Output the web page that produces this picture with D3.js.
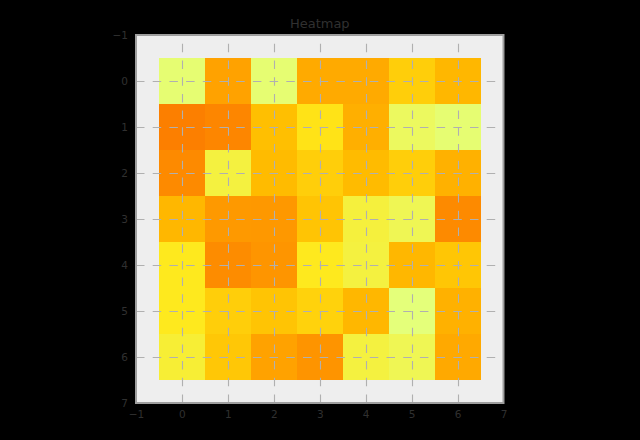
<!DOCTYPE html>
<html><head><meta charset="utf-8">
<script src="https://cdn.jsdelivr.net/npm/d3@7"></script>
<style>html,body{margin:0;padding:0;background:#000;}svg{display:block;}</style>
</head><body>
<script>
const title = "Heatmap";
const xCategories = [0, 1, 2, 3, 4, 5, 6];
const yCategories = [0, 1, 2, 3, 4, 5, 6];
const row0 = [0.02, 0.73, 0.02, 0.66, 0.66, 0.40, 0.55];
const row1 = [1.00, 0.95, 0.49, 0.28, 0.62, 0.07, 0.02];
const row2 = [0.92, 0.15, 0.52, 0.40, 0.52, 0.40, 0.60];
const row3 = [0.55, 0.80, 0.81, 0.46, 0.16, 0.10, 0.92];
const row4 = [0.24, 0.90, 0.83, 0.24, 0.15, 0.55, 0.45];
const row5 = [0.24, 0.40, 0.46, 0.38, 0.55, 0.00, 0.60];
const row6 = [0.18, 0.44, 0.73, 0.84, 0.15, 0.10, 0.67];
const values = [row0, row1, row2, row3, row4, row5, row6];
const xTicks = [-1, 0, 1, 2, 3, 4, 5, 6, 7];
const yTicks = [-1, 0, 1, 2, 3, 4, 5, 6, 7];
const wistiaStops = [0, 0.25, 0.5, 0.75, 1];
const wistiaColors = ["#e4ff7a", "#ffe81a", "#ffbd00", "#ffa000", "#fc7f00"];

(function () {
const W = 640, H = 440;
const pl = 136, pr = 503.5, pt = 35, pb = 403;
const svg = d3.select("body").append("svg").attr("width", W).attr("height", H)
  .style("font-family", "DejaVu Sans, sans-serif");
svg.append("rect").attr("width", W).attr("height", H).attr("fill", "#000");

const x = d3.scaleLinear().domain([-1, 7]).range([pl, pr]);
const y = d3.scaleLinear().domain([-1, 7]).range([pt, pb]);

const flat = values.flat();
const vmin = d3.min(flat), vmax = d3.max(flat);
const norm = d3.scaleLinear().domain([vmin, vmax]).range([0, 1]);
const cmap = d3.scaleLinear().domain(wistiaStops).range(wistiaColors).interpolate(d3.interpolateRgb);

svg.append("rect").attr("x", pl).attr("y", pt).attr("width", pr - pl).attr("height", pb - pt)
  .attr("fill", "#eeeeee");

const cells = [];
values.forEach((row, r) => row.forEach((v, c) => cells.push({r: yCategories[r], c: xCategories[c], v})));
svg.append("g").selectAll("rect").data(cells).join("rect")
  .attr("x", d => x(d.c - 0.5))
  .attr("y", d => y(d.r - 0.5))
  .attr("width", d => x(d.c + 0.5) - x(d.c - 0.5))
  .attr("height", d => y(d.r + 0.5) - y(d.r - 0.5))
  .attr("fill", d => cmap(norm(d.v)))
  .attr("shape-rendering", "crispEdges");

// grid
const grid = svg.append("g").attr("stroke", "#b0b0b0").attr("stroke-width", 1.1).attr("stroke-dasharray", "8.5,8.2");
grid.selectAll("line.v").data(xTicks.slice(1, -1)).join("line").attr("class", "v")
  .attr("x1", d => Math.round(x(d)) + 0.5).attr("x2", d => Math.round(x(d)) + 0.5)
  .attr("y1", pb).attr("y2", pt);
grid.selectAll("line.h").data(yTicks.slice(1, -1)).join("line").attr("class", "h")
  .attr("y1", d => Math.round(y(d)) + 0.5).attr("y2", d => Math.round(y(d)) + 0.5)
  .attr("x1", pl).attr("x2", pr);

// frame
svg.append("rect").attr("x", pl).attr("y", pt).attr("width", pr - pl).attr("height", pb - pt)
  .attr("fill", "none").attr("stroke", "#9e9e9e").attr("stroke-width", 2);

// axes
const xAxis = d3.axisBottom(x).tickValues(xTicks).tickSize(0).tickPadding(8);
const yAxis = d3.axisLeft(y).tickValues(yTicks).tickSize(0).tickPadding(8);
const gx = svg.append("g").attr("transform", `translate(0,${pb})`).call(xAxis);
const gy = svg.append("g").attr("transform", `translate(${pl},0)`).call(yAxis);
[gx, gy].forEach(g => {
  g.select(".domain").remove();
  g.selectAll("text").attr("fill", "#303030").style("font-size", "10.5px").style("font-family", "DejaVu Sans, sans-serif");
});

svg.append("text").attr("x", (pl + pr) / 2).attr("y", 28).attr("text-anchor", "middle")
  .attr("fill", "#303030").style("font-size", "13px").text(title);
})();
</script>
</body></html>
